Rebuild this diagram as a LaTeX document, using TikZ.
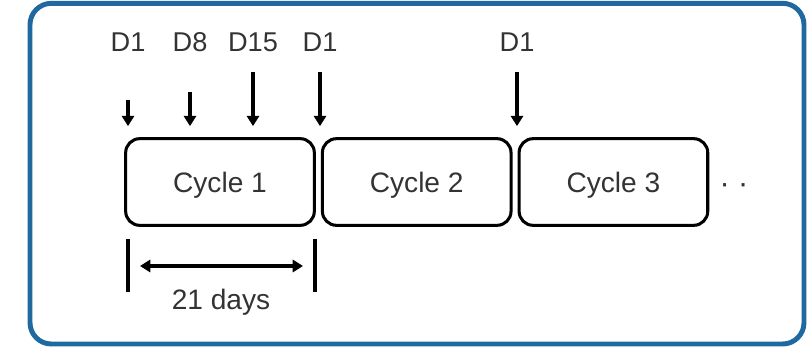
\documentclass[tikz,border=0pt]{standalone}
\usepackage{fontspec}
\setmainfont{Liberation Sans}
\usepackage{tikz}
\usetikzlibrary{positioning,arrows.meta}
\definecolor{frameblue}{RGB}{31,105,160}
\definecolor{textgray}{RGB}{51,51,51}
\tikzset{
    cycle box/.style={
        draw,line width=1.3pt,rounded corners=6pt,
        minimum width=2.83cm,minimum height=1.3cm,
        text=textgray,text height=.92em,text depth=0pt,
        font=\fontsize{12}{14}\selectfont
    },
    dose label/.style={
        text=textgray,anchor=base,inner sep=0pt,
        font=\fontsize{11.6}{14}\selectfont
    },
    >={Triangle[length=4.4pt,width=5.2pt]}
}
\begin{document}
\begin{tikzpicture}
\useasboundingbox (0,0) rectangle (12.12,5.22);
\draw[frameblue,line width=2.1pt,rounded corners=.32cm] (.45,.06) rectangle (12.06,5.17);
% the three cycles, side by side
\node[cycle box] (cycle1) at (3.3,2.49) {Cycle 1};
\node[cycle box,right=.075cm of cycle1] (cycle2) {Cycle 2};
\node[cycle box,right=.075cm of cycle2] (cycle3) {Cycle 3};
\node[text=textgray,font=\fontsize{13}{14}\selectfont,right=.03cm of cycle3,yshift=-.1cm] (more) {· ·};
% dosing days
\foreach \i/\x/\top/\lab in {1/1.92/3.72/D1,2/2.85/3.84/D8,3/3.795/4.14/D15,4/4.8/4.14/D1,5/7.755/4.14/D1}{
    \node[dose label] (dose\i) at (\x,4.44) {\lab};
    \coordinate (from\i) at (\x,\top);
    \coordinate (to\i) at ([yshift=.165cm]cycle1.north -| from\i);
    \draw[->,line width=1.3pt] (from\i) -- (to\i);
}
% length of one cycle
\coordinate (start) at (1.92,1.635);
\coordinate (stop) at (4.725,1.635);
\draw[line width=1.3pt] (start) -- ++(0,-.795);
\draw[line width=1.3pt] (stop) -- ++(0,-.795);
\draw[<->,line width=1.3pt] ([shift={(.18,-.405)}]start) -- ([shift={(-.18,-.405)}]stop);
\node[dose label,font=\fontsize{12}{14}\selectfont] (days) at (3.315,.585) {21 days};
\end{tikzpicture}
\end{document}
